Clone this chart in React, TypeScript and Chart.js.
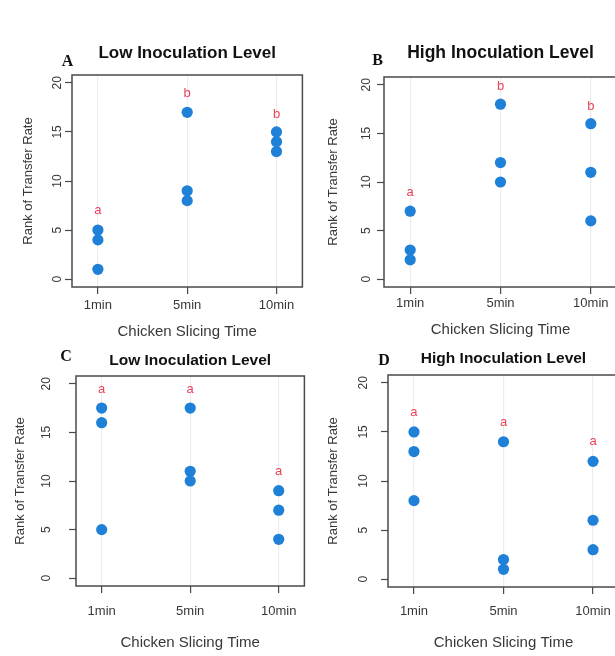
import React, { useEffect, useRef } from 'react';
import { Chart, registerables } from 'chart.js';

Chart.register(...registerables);

// ---------- data ----------
const categories = ['1min', '5min', '10min'];
const yTickValues = [0, 5, 10, 15, 20];
const panelLetters = ['A', 'B', 'C', 'D'];
const panelTitles = ['Low Inoculation Level', 'High Inoculation Level', 'Low Inoculation Level', 'High Inoculation Level'];
const xAxisTitle = 'Chicken Slicing Time';
const yAxisTitle = 'Rank of Transfer Rate';

const ranksA = [[1, 4, 5], [8, 9, 17], [13, 14, 15]];
const ranksB = [[2, 3, 7], [10, 12, 18], [6, 11, 16]];
const ranksC = [[5, 16, 17.5], [10, 11, 17.5], [4, 7, 9]];
const ranksD = [[8, 13, 15], [1, 2, 14], [3, 6, 12]];

const groupLettersA = ['a', 'b', 'b'];
const groupLettersB = ['a', 'b', 'b'];
const groupLettersC = ['a', 'a', 'a'];
const groupLettersD = ['a', 'a', 'a'];

const letterRankA = [7, 18.9, 16.8];
const letterRankB = [8.9, 19.8, 17.8];
const letterRankC = [19.4, 19.4, 11];
const letterRankD = [17, 16, 14];

const panelRanks = [ranksA, ranksB, ranksC, ranksD];
const panelGroupLetters = [groupLettersA, groupLettersB, groupLettersC, groupLettersD];
const panelLetterRanks = [letterRankA, letterRankB, letterRankC, letterRankD];

// ---------- layout (page coordinates) ----------
type Lay = {
  cl: number; ct: number; cw: number; ch: number;
  L: number; T: number; R: number; B: number;
  yTitleX: number; yLabelX: number; xLabelY: number; xTitleY: number;
  titleY: number; titleSize: number; letterX: number; letterY: number;
};
const layouts: Lay[] = [
  { cl: 0, ct: 0, cw: 308, ch: 345, L: 72, T: 75, R: 303, B: 287, yTitleX: 28.3, yLabelX: 57.3, xLabelY: 305.5, xTitleY: 331.5, titleY: 53, titleSize: 17, letterX: 67.5, letterY: 61.7 },
  { cl: 310, ct: 0, cw: 330, ch: 345, L: 384, T: 77, R: 617, B: 287, yTitleX: 333.3, yLabelX: 367, xLabelY: 303, xTitleY: 330, titleY: 53, titleSize: 17.5, letterX: 377.5, letterY: 61 },
  { cl: 0, ct: 345, cw: 310, ch: 311, L: 76, T: 376, R: 308, B: 586, yTitleX: 20, yLabelX: 46.7, xLabelY: 611, xTitleY: 643, titleY: 361, titleSize: 15.5, letterX: 66, letterY: 357 },
  { cl: 310, ct: 345, cw: 330, ch: 311, L: 388, T: 375, R: 619, B: 587, yTitleX: 333, yLabelX: 363.3, xLabelY: 611.7, xTitleY: 643.3, titleY: 359, titleSize: 15.5, letterX: 384, letterY: 361 },
];

const SANS = '"Liberation Sans", Arial, Helvetica, sans-serif';
const SERIF = '"Liberation Serif", "Times New Roman", serif';
const POINT_COLOR = '#1f80d8';
const LETTER_COLOR = '#e8435a';
const TEXT_COLOR = '#383838';
const TICK_LEN = 7;
const X_TICK_FONT = 13;
const Y_TITLE_FONT = 13;
const X_TITLE_FONT = 15;

function Panel({ idx }: { idx: number }) {
  const ref = useRef<HTMLCanvasElement | null>(null);
  const lay = layouts[idx];

  useEffect(() => {
    if (!ref.current) return;
    const ranks = panelRanks[idx];
    const letters = panelGroupLetters[idx];
    const letterRanks = panelLetterRanks[idx];

    const points: { x: number; y: number }[] = [];
    ranks.forEach((vals, i) => vals.forEach((v) => points.push({ x: i + 1, y: v })));

    const yLineH = Y_TITLE_FONT * 1.2;
    const xLineH = X_TITLE_FONT * 1.2;
    const YW = lay.L - lay.yTitleX + yLineH / 2;
    const XH = lay.xTitleY - lay.B + xLineH / 2;
    const padLeft = lay.L - lay.cl - YW;
    const padTop = lay.T - lay.ct;
    const padRight = lay.cl + lay.cw - lay.R;
    const padBottom = lay.ct + lay.ch - (lay.B + XH);
    const xTickPad = lay.xLabelY - lay.B - TICK_LEN - (X_TICK_FONT * 1.2) / 2;

    const decor = {
      id: 'decor' + idx,
      afterDraw(chart: any) {
        const ctx = chart.ctx as CanvasRenderingContext2D;
        const a = chart.chartArea;
        const xs = chart.scales.x;
        const ys = chart.scales.y;
        ctx.save();
        ctx.strokeStyle = '#4a4a4a';
        ctx.lineWidth = 1.5;
        ctx.strokeRect(a.left, a.top, a.right - a.left, a.bottom - a.top);

        ctx.fillStyle = TEXT_COLOR;
        ctx.font = `12px ${SANS}`;
        ctx.textAlign = 'center';
        ctx.textBaseline = 'middle';
        yTickValues.forEach((v) => {
          const py = ys.getPixelForValue(v);
          ctx.save();
          ctx.translate(lay.yLabelX - lay.cl, py);
          ctx.rotate(-Math.PI / 2);
          ctx.fillText(String(v), 0, 0);
          ctx.restore();
        });

        ctx.fillStyle = LETTER_COLOR;
        ctx.font = `13px ${SANS}`;
        letters.forEach((l, i) => {
          ctx.fillText(l, xs.getPixelForValue(i + 1), ys.getPixelForValue(letterRanks[i]));
        });

        ctx.fillStyle = '#111';
        ctx.font = `bold ${lay.titleSize}px ${SANS}`;
        ctx.fillText(panelTitles[idx], (a.left + a.right) / 2, lay.titleY - lay.ct);

        ctx.font = `bold 16px ${SERIF}`;
        ctx.fillText(panelLetters[idx], lay.letterX - lay.cl, lay.letterY - lay.ct);
        ctx.restore();
      },
    };

    const chart = new Chart(ref.current, {
      type: 'scatter',
      data: {
        datasets: [
          {
            data: points,
            backgroundColor: POINT_COLOR,
            borderColor: POINT_COLOR,
            borderWidth: 0,
            pointRadius: 5.6,
            pointHoverRadius: 5.6,
          },
        ],
      },
      options: {
        responsive: false,
        animation: false,
        events: [],
        layout: { padding: { left: padLeft, top: padTop, right: padRight, bottom: padBottom } },
        plugins: { legend: { display: false }, tooltip: { enabled: false } },
        scales: {
          x: {
            type: 'linear',
            min: 0.71,
            max: 3.29,
            afterBuildTicks: (s: any) => {
              s.ticks = categories.map((_, i) => ({ value: i + 1 }));
            },
            afterFit: (s: any) => {
              s.height = XH;
            },
            ticks: {
              callback: (v: any) => categories[Number(v) - 1] ?? '',
              font: { size: X_TICK_FONT, family: SANS },
              color: TEXT_COLOR,
              padding: xTickPad,
              maxRotation: 0,
              autoSkip: false,
            },
            grid: {
              display: true,
              drawOnChartArea: true,
              color: 'rgba(0,0,0,0.07)',
              tickColor: '#4a4a4a',
              tickLength: TICK_LEN,
              lineWidth: 1.2,
              tickWidth: 1.2,
            },
            border: { display: false },
            title: {
              display: true,
              text: xAxisTitle,
              font: { size: X_TITLE_FONT, family: SANS },
              color: TEXT_COLOR,
              padding: 0,
            },
          },
          y: {
            type: 'linear',
            min: -0.8,
            max: 20.8,
            afterBuildTicks: (s: any) => {
              s.ticks = yTickValues.map((v) => ({ value: v }));
            },
            afterFit: (s: any) => {
              s.width = YW;
            },
            ticks: { display: false },
            grid: {
              display: true,
              drawOnChartArea: false,
              tickColor: '#4a4a4a',
              tickLength: TICK_LEN,
              tickWidth: 1.2,
            },
            border: { display: false },
            title: {
              display: true,
              text: yAxisTitle,
              font: { size: Y_TITLE_FONT, family: SANS },
              color: TEXT_COLOR,
              padding: 0,
            },
          },
        },
      },
      plugins: [decor],
    } as any);

    return () => chart.destroy();
  }, [idx]);

  return (
    <canvas
      ref={ref}
      width={lay.cw}
      height={lay.ch}
      style={{ position: 'absolute', left: lay.cl, top: lay.ct, width: lay.cw, height: lay.ch }}
    />
  );
}

export default function App() {
  return (
    <div
      style={{
        position: 'fixed',
        left: 0,
        top: 0,
        width: 615,
        height: 656,
        overflow: 'hidden',
        background: '#ffffff',
      }}
    >
      {layouts.map((_, i) => (
        <Panel key={i} idx={i} />
      ))}
    </div>
  );
}
